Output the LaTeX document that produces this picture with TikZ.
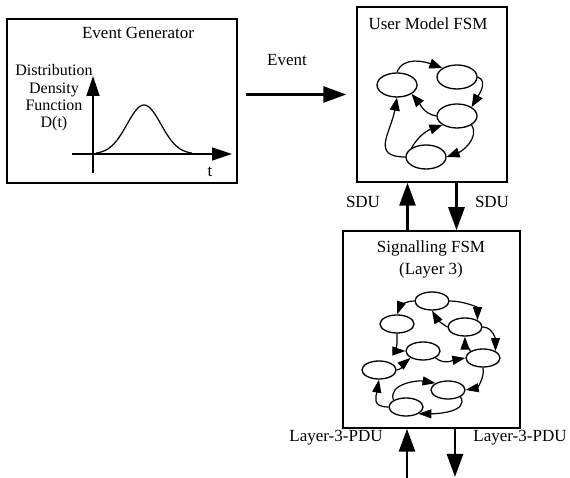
\documentclass[tikz,border=0pt]{standalone}
\usepackage{fontspec}
\setmainfont{Liberation Serif}
\usetikzlibrary{shapes.geometric, arrows.meta}

\begin{document}
\begin{tikzpicture}[
    x=1pt, y=1pt,
    every node/.style={font=\fontsize{17}{18}\selectfont},
    box/.style={
        rectangle, 
        draw, 
        line width=1.5pt, 
        inner sep=0pt
    },
    fsmstate/.style={ellipse, draw, line width=1.3pt, minimum width=40pt, minimum height=24pt, inner sep=0pt},
    smallstate/.style={fsmstate, minimum width=34pt, minimum height=18pt},
    bigarrow/.style={line width=2.8pt, -{Triangle[length=23pt, width=16pt]}},
    axis/.style={line width=1.4pt, -{Triangle[length=20pt, width=13pt]}},
    trans/.style={line width=1.2pt, -{Triangle[length=13pt, width=10pt]}},
    strans/.style={line width=1.2pt, -{Triangle[length=13pt, width=9pt]}}
]
    \useasboundingbox (0,0) rectangle (570,478);

    % Generatore di eventi
    \node[box, minimum width=230pt, minimum height=164pt] (gen) at (122,377) {};
    \node (gentitle) at (138,445) {Event Generator};
    \node[align=center, font=\fontsize{16}{17.3}\selectfont] (dlabel) at (54,380) 
         {Distribution\\Density\\Function\\D(t)};
    \coordinate (ybot) at (93,305);
    \coordinate (ytop) at (93,402);
    \coordinate (xleft) at (72,324);
    \coordinate (xright) at (232,324);
    \draw[axis] (ybot) -- (ytop);
    \draw[axis] (xleft) -- (xright);
    \draw[line width=1.2pt] plot[domain=96:192, samples=60, smooth] 
         (\x, {324+49*exp(-((\x-144)/24)^2)});
    \node (tlabel) at (210,306) {t};

    % User model
    \node[box, minimum width=150pt, minimum height=175pt] (user) at (432,383.5) {};
    \node (usertitle) at (428,454) {User Model FSM};
    \node[fsmstate] (e1) at (397,393) {};
    \node[fsmstate] (e2) at (457,401) {};
    \node[fsmstate] (e3) at (457,362) {};
    \node[fsmstate] (e4) at (426,321) {};
    \draw[trans] (e1.north) to[out=70, in=160] (e2.north west);
    \draw[trans] (e2.east) to[out=-20, in=60] (e3.north east);
    \draw[trans] (e3.west) to[out=170, in=-50] (e1.south east);
    \draw[trans] (e4.north west) to[out=60, in=200] (e3.south west);
    \draw[trans] (e3.south east) to[out=-60, in=20] (e4.east);
    \draw[trans] (e4.west) to[out=180, in=-100, looseness=1.5] (e1.south);

    % Event
    \draw[bigarrow, shorten <=8pt, shorten >=10pt] (gen.east |- user.west) -- (user.west);
    \node (evlabel) at (287,418) {Event};

    % Signalling
    \node[box, minimum width=177pt, minimum height=197pt] (sig) at (431.5,148.5) {};
    \node[align=center, font=\fontsize{17}{22}\selectfont] (sigtitle) at (431,219) 
         {Signalling FSM\\(Layer 3)};
    \node[smallstate] (s1) at (432,177) {};
    \node[smallstate] (s2) at (397,154) {};
    \node[smallstate] (s3) at (465,151) {};
    \node[smallstate] (s4) at (423,127) {};
    \node[smallstate] (s5) at (483,120) {};
    \node[smallstate] (s6) at (379,108) {};
    \node[smallstate] (s7) at (448,88) {};
    \node[smallstate] (s8) at (406,71) {};
    \draw[strans] (s1.west) to[out=180, in=70] (s2.north);
    \draw[strans] (s1.east) to[out=0, in=90] (s3.north east);
    \draw[strans] (s3.west) to[out=150, in=-60] (s1.south);
    \draw[strans] (s2.south) to[out=-90, in=180] (s4.west);
    \draw[strans] (s3.east) to[out=0, in=90] (s5.north east);
    \draw[strans] (s5.north west) to[out=120, in=-90] (s3.south);
    \draw[strans] (s4.south east) to[out=-40, in=190] (s5.west);
    \draw[strans] (s6.east) to[out=10, in=-140] (s4.south west);
    \draw[strans] (s5.south) to[out=-80, in=10] (s7.east);
    \draw[strans] (s8.north west) to[out=110, in=170] (s7.north west);
    \draw[strans] (s7.south east) to[out=-60, in=0] (s8.south east);
    \draw[strans] (s8.west) to[out=180, in=-100, looseness=1.5] (s6.south);

    % SDU
    \draw[bigarrow] ([xshift=-24pt]sig.north) -- ([xshift=-24pt]sig.north |- user.south);
    \draw[bigarrow] ([xshift=25pt]sig.north |- user.south) -- ([xshift=25pt]sig.north);
    \node (sduup) at (363,276) {SDU};
    \node (sdudown) at (492,276) {SDU};

    % Layer-3-PDU
    \coordinate (pduin) at (407,0);
    \coordinate (pduout) at (455,1);
    \draw[bigarrow] (pduin) -- (pduin |- sig.south);
    \draw[bigarrow] (pduout |- sig.south) -- (pduout);
    \node (pduleft) at (336,40) {Layer-3-PDU};
    \node (pduright) at (520,40) {Layer-3-PDU};
\end{tikzpicture}
\end{document}
